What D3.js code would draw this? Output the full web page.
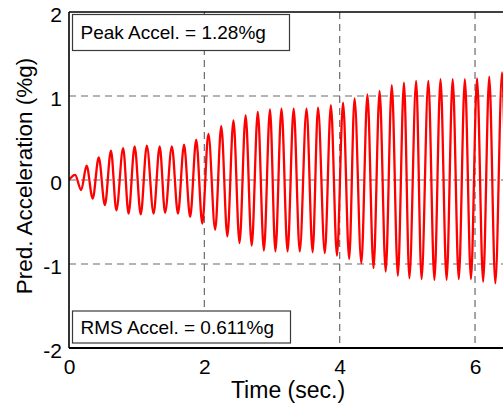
<!DOCTYPE html>
<html>
<head>
<meta charset="utf-8">
<title>Pred. Acceleration</title>
<style>
  html, body { margin: 0; padding: 0; background: #fff; }
  svg { display: block; }
  text { font-family: "Liberation Sans", Arial, sans-serif; fill: #000; }
</style>
</head>
<body>
<script src="https://d3js.org/d3.v7.min.js"></script>
<script>
// extrema of the trace (time in s, value in %g)
var times = [0, 0.09, 0.18, 0.26, 0.35, 0.44, 0.53, 0.62, 0.70, 0.80, 0.88, 0.97, 1.06, 1.15, 1.25,
  1.34, 1.42, 1.52, 1.61, 1.70, 1.79, 1.88, 1.97, 2.06, 2.16, 2.25, 2.34, 2.43, 2.52, 2.61, 2.70,
  2.79, 2.88, 2.97, 3.05, 3.14, 3.23, 3.32, 3.41, 3.51, 3.60, 3.68, 3.78, 3.87, 3.96, 4.05, 4.14,
  4.22, 4.32, 4.41, 4.50, 4.59, 4.68, 4.77, 4.86, 4.95, 5.03, 5.13, 5.21, 5.31, 5.40, 5.49, 5.58,
  5.67, 5.76, 5.85, 5.94, 6.03, 6.12, 6.21, 6.30, 6.40, 6.49, 6.58];
var accel = [0, 0.06, -0.12, 0.17, -0.22, 0.27, -0.30, 0.35, -0.36, 0.38, -0.40, 0.40, -0.41, 0.41, -0.40,
  0.40, -0.39, 0.40, -0.40, 0.42, -0.44, 0.48, -0.52, 0.55, -0.59, 0.64, -0.67, 0.71, -0.75, 0.77, -0.78,
  0.81, -0.84, 0.84, -0.85, 0.85, -0.85, 0.85, -0.85, 0.85, -0.86, 0.86, -0.87, 0.89, -0.90, 0.92, -0.94,
  0.97, -0.99, 1.02, -1.05, 1.06, -1.09, 1.13, -1.14, 1.16, -1.17, 1.18, -1.18, 1.18, -1.19, 1.20, -1.19,
  1.20, -1.18, 1.20, -1.18, 1.21, -1.21, 1.23, -1.23, 1.28, -1.25, 1.26];
var xTicks = [0, 2, 4, 6];
var yTicks = [-2, -1, 0, 1, 2];
var gridX = [2, 4, 6];
var gridY = [-1, 0, 1];
var peakText = "Peak Accel. = 1.28%g";
var rmsText = "RMS Accel. = 0.611%g";

var W = 503, H = 406;
var padL = 69, padT = 12, padB = 348;

var x = d3.scaleLinear().domain([0, 7]).range([padL, padL + 7 * 67.67]);
var y = d3.scaleLinear().domain([-2, 2]).range([padB, padT]);

var svg = d3.select("body").append("svg")
  .attr("width", W)
  .attr("height", H);

svg.append("defs").append("clipPath").attr("id", "plot")
  .append("rect")
  .attr("x", padL).attr("y", padT)
  .attr("width", x(7) - padL).attr("height", padB - padT);

// grid
var grid = svg.append("g")
  .attr("stroke", "#6a6a6a")
  .attr("stroke-width", 1.2)
  .attr("stroke-dasharray", "7,5");

grid.selectAll("line.gx").data(gridX).enter().append("line")
  .attr("class", "gx")
  .attr("x1", function(d) { return x(d); })
  .attr("x2", function(d) { return x(d); })
  .attr("y1", padT).attr("y2", padB);

grid.selectAll("line.gy").data(gridY).enter().append("line")
  .attr("class", "gy")
  .attr("x1", padL).attr("x2", W)
  .attr("y1", function(d) { return y(d); })
  .attr("y2", function(d) { return y(d); });

// trace
var pts = times.map(function(t, i) { return [t, accel[i]]; });
var line = d3.line()
  .x(function(d) { return x(d[0]); })
  .y(function(d) { return y(d[1]); })
  .curve(d3.curveMonotoneX);

svg.append("path")
  .datum(pts)
  .attr("clip-path", "url(#plot)")
  .attr("fill", "none")
  .attr("stroke", "#ff0000")
  .attr("stroke-width", 2.3)
  .attr("stroke-linejoin", "round")
  .attr("d", line);

// annotation boxes
function box(x0, y0, w, h, label, base) {
  svg.append("rect")
    .attr("x", x0).attr("y", y0)
    .attr("width", w).attr("height", h)
    .attr("fill", "#fff")
    .attr("stroke", "#3a3a3a")
    .attr("stroke-width", 1.2);
  svg.append("text")
    .attr("x", x0 + 8).attr("y", base)
    .attr("font-size", 19)
    .text(label);
}
box(72.5, 14.5, 217, 36, peakText, 39);
box(72.5, 311, 218, 32, rmsText, 334);

// axes (plain hyphen minus like the original)
var yAxis = d3.axisLeft(y).tickValues(yTicks).tickSize(0).tickPadding(7).tickFormat(function(d) { return String(d); });
var gy = svg.append("g").attr("transform", "translate(" + padL + ",0)").call(yAxis);
gy.select(".domain").remove();
gy.selectAll("text")
  .attr("font-family", "Liberation Sans, Arial, sans-serif")
  .attr("font-size", 21)
  .attr("dy", "0.45em");

var xAxis = d3.axisBottom(x).tickValues(xTicks).tickSize(0).tickPadding(0).tickFormat(function(d) { return String(d); });
var gx = svg.append("g").attr("transform", "translate(0," + padB + ")").call(xAxis);
gx.select(".domain").remove();
gx.selectAll("text")
  .attr("font-family", "Liberation Sans, Arial, sans-serif")
  .attr("font-size", 21)
  .attr("dy", "1.23em");

// frame
svg.append("line").attr("x1", padL).attr("x2", padL).attr("y1", padT).attr("y2", padB)
  .attr("stroke", "#000").attr("stroke-width", 1.6);
svg.append("line").attr("x1", padL).attr("x2", W).attr("y1", padT).attr("y2", padT)
  .attr("stroke", "#000").attr("stroke-width", 1.6);
svg.append("line").attr("x1", padL).attr("x2", W).attr("y1", padB).attr("y2", padB)
  .attr("stroke", "#000").attr("stroke-width", 2);

// labels
svg.append("text")
  .attr("x", 288).attr("y", 398)
  .attr("text-anchor", "middle")
  .attr("font-size", 23)
  .text("Time (sec.)");

svg.append("text")
  .attr("transform", "translate(32,176) rotate(-90)")
  .attr("text-anchor", "middle")
  .attr("font-size", 22.5)
  .text("Pred. Acceleration (%g)");
</script>
</body>
</html>
